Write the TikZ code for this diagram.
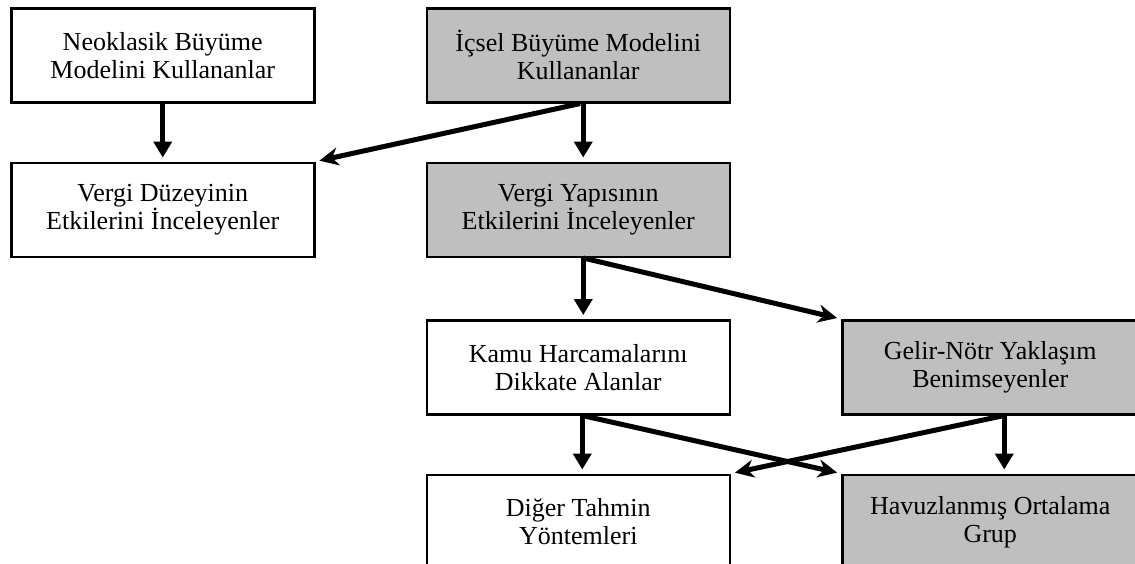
\documentclass[tikz,border=0pt]{standalone}
\usepackage{fontspec}
\setmainfont{Liberation Serif}
\usetikzlibrary{arrows.meta,positioning}
\tikzstyle{wbox}   = [rectangle, draw, line width=2.5pt, align=center,
                      minimum width=303pt, minimum height=94pt, inner sep=0pt,
                      font=\fontsize{26}{28}\selectfont, fill=white]
\tikzstyle{gbox}   = [wbox, fill=black!25]
\tikzstyle{harrow} = [-{Triangle[length=16pt,width=18pt]}, line width=5pt,
                      shorten >=4pt]
\tikzstyle{darrow} = [harrow, -{Stealth[length=19pt,width=18pt,inset=6pt]}]

\begin{document}
\begin{tikzpicture}[node distance=58pt and 110pt, x=1pt, y=1pt]
\useasboundingbox (0,0) rectangle (1135,-563);
% Growth models
\node[wbox, anchor=north west] (neo) at (10,-7) {Neoklasik Büyüme\\Modelini Kullananlar};
\node[gbox, right=of neo] (icsel) {İçsel Büyüme Modelini\\Kullananlar};
% Tax level / structure
\node[wbox, below=of neo] (duzey) {Vergi Düzeyinin\\Etkilerini İnceleyenler};
\node[gbox, below=of icsel] (yapi) {Vergi Yapısının\\Etkilerini İnceleyenler};
% Approaches
\node[wbox, below=61pt of yapi] (kamu) {Kamu Harcamalarını\\Dikkate Alanlar};
\node[gbox, right=of kamu, minimum width=296pt] (notr) {Gelir-Nötr Yaklaşım\\Benimseyenler};
% Estimation
\node[wbox, below=of kamu] (diger) {Diğer Tahmin\\Yöntemleri};
\node[gbox, below=of notr, minimum width=296pt] (havuz) {Havuzlanmış Ortalama\\Grup};
% Arrows
\draw[harrow] (neo) -- (duzey);
\draw[harrow] ([xshift=5pt]icsel.south) -- ([xshift=5pt]yapi.north);
\draw[darrow] ([xshift=2pt]icsel.south) -- (duzey.north east);
\draw[harrow] ([xshift=5pt]yapi.south) -- ([xshift=5pt]kamu.north);
\draw[darrow] ([xshift=5pt]yapi.south) -- (notr.north west);
\draw[harrow] ([xshift=4pt]kamu.south) -- ([xshift=4pt]diger.north);
\draw[darrow] ([xshift=4pt]kamu.south) -- (havuz.north west);
\draw[harrow] ([xshift=14pt]notr.south) -- ([xshift=14pt]havuz.north);
\draw[darrow] ([xshift=14pt]notr.south) -- (diger.north east);
\end{tikzpicture}
\end{document}
